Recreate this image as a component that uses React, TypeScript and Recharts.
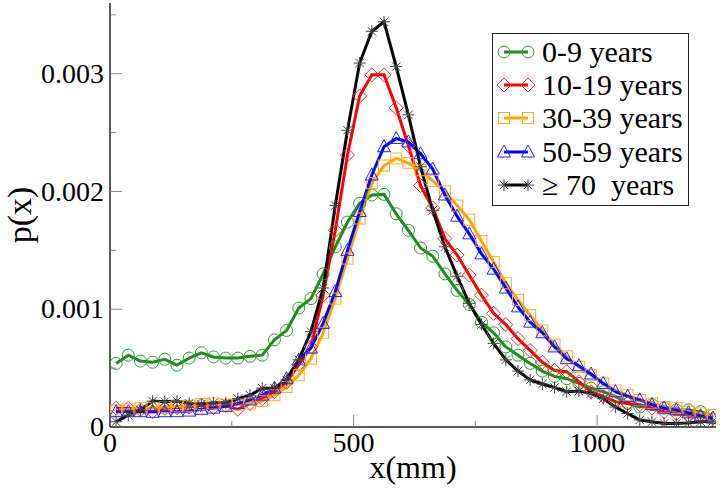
import React from "react";
import { LineChart, Line, XAxis, YAxis, Legend, Label } from "recharts";

// bin centres (mm)
const xs = [
  12.5, 37.5, 62.5, 87.5, 112.5, 137.5, 162.5, 187.5, 212.5, 237.5,
  262.5, 287.5, 312.5, 337.5, 362.5, 387.5, 412.5, 437.5, 462.5, 487.5,
  512.5, 537.5, 562.5, 587.5, 612.5, 637.5, 662.5, 687.5, 712.5, 737.5,
  762.5, 787.5, 812.5, 837.5, 862.5, 887.5, 912.5, 937.5, 962.5, 987.5,
  1012.5, 1037.5, 1062.5, 1087.5, 1112.5, 1137.5, 1162.5, 1187.5, 1212.5, 1237.5,
];

const age0to9 = [
  5.4e-4, 6.1e-4, 5.6e-4, 5.5e-4, 5.75e-4, 5.25e-4, 5.85e-4, 6.3e-4, 5.95e-4, 5.85e-4,
  5.85e-4, 6.0e-4, 6.1e-4, 7.4e-4, 8.2e-4, 10.1e-4, 10.9e-4, 13.0e-4, 15.3e-4, 17.4e-4,
  19.0e-4, 19.7e-4, 19.75e-4, 18.1e-4, 16.7e-4, 15.2e-4, 14.5e-4, 13.0e-4, 11.6e-4, 10.4e-4,
  8.9e-4, 8.0e-4, 6.8e-4, 6.1e-4, 5.4e-4, 4.75e-4, 4.3e-4, 4.1e-4, 3.7e-4, 3.3e-4,
  3.0e-4, 2.6e-4, 2.0e-4, 1.7e-4, 1.9e-4, 1.6e-4, 1.45e-4, 1.45e-4, 1.3e-4, 1.0e-4,
];

const age10to19 = [
  1.6e-4, 1.6e-4, 1.45e-4, 1.3e-4, 1.6e-4, 1.65e-4, 1.7e-4, 1.85e-4, 1.65e-4, 1.8e-4,
  1.5e-4, 2.0e-4, 2.4e-4, 3.0e-4, 3.8e-4, 5.3e-4, 6.8e-4, 11.2e-4, 16.7e-4, 23.1e-4,
  28.1e-4, 29.9e-4, 29.9e-4, 27.1e-4, 23.9e-4, 20.5e-4, 18.6e-4, 16.0e-4, 14.6e-4, 12.9e-4,
  11.2e-4, 9.65e-4, 8.7e-4, 7.5e-4, 6.5e-4, 5.5e-4, 4.8e-4, 4.7e-4, 3.85e-4, 3.0e-4,
  2.6e-4, 2.15e-4, 2.0e-4, 1.9e-4, 1.6e-4, 1.3e-4, 1.15e-4, 1.0e-4, 0.85e-4, 0.74e-4,
];

const age30to39 = [
  1.4e-4, 1.5e-4, 1.6e-4, 1.6e-4, 1.7e-4, 1.75e-4, 1.8e-4, 1.95e-4, 2.0e-4, 1.9e-4,
  1.9e-4, 2.0e-4, 2.2e-4, 2.7e-4, 3.4e-4, 4.4e-4, 5.8e-4, 8.0e-4, 10.9e-4, 14.3e-4,
  17.7e-4, 20.7e-4, 22.2e-4, 22.8e-4, 22.4e-4, 21.8e-4, 20.9e-4, 20.0e-4, 18.8e-4, 17.6e-4,
  15.8e-4, 14.0e-4, 12.2e-4, 10.8e-4, 9.5e-4, 8.2e-4, 7.0e-4, 6.0e-4, 5.1e-4, 4.4e-4,
  3.7e-4, 3.1e-4, 2.7e-4, 2.3e-4, 2.0e-4, 1.7e-4, 1.6e-4, 1.3e-4, 1.15e-4, 1.0e-4,
];

const age50to59 = [
  1.3e-4, 1.3e-4, 1.3e-4, 1.25e-4, 1.3e-4, 1.3e-4, 1.35e-4, 1.5e-4, 1.6e-4, 1.75e-4,
  2.0e-4, 2.3e-4, 2.7e-4, 3.3e-4, 4.1e-4, 5.7e-4, 6.7e-4, 8.8e-4, 11.5e-4, 15.0e-4,
  18.3e-4, 21.4e-4, 23.8e-4, 24.5e-4, 24.2e-4, 23.2e-4, 21.9e-4, 19.7e-4, 17.9e-4, 16.4e-4,
  14.7e-4, 13.4e-4, 11.8e-4, 10.2e-4, 8.9e-4, 8.0e-4, 6.8e-4, 5.8e-4, 5.2e-4, 4.5e-4,
  3.7e-4, 3.0e-4, 2.6e-4, 2.3e-4, 1.9e-4, 1.6e-4, 1.45e-4, 1.2e-4, 0.95e-4, 0.75e-4,
];

const age70plus = [
  0.45e-4, 1.0e-4, 1.45e-4, 2.2e-4, 2.15e-4, 2.2e-4, 2.0e-4, 1.95e-4, 2.05e-4, 2.05e-4,
  2.4e-4, 2.7e-4, 3.3e-4, 3.3e-4, 4.0e-4, 5.7e-4, 8.1e-4, 11.8e-4, 18.8e-4, 25.2e-4,
  30.9e-4, 33.6e-4, 34.4e-4, 30.6e-4, 26.5e-4, 22.1e-4, 18.4e-4, 15.3e-4, 12.8e-4, 10.5e-4,
  8.7e-4, 7.1e-4, 5.7e-4, 4.75e-4, 4.0e-4, 3.65e-4, 3.35e-4, 3.0e-4, 3.05e-4, 2.85e-4,
  2.4e-4, 1.7e-4, 1.15e-4, 0.6e-4, 0.45e-4, 0.3e-4, 0.3e-4, 0.35e-4, 0.45e-4, 0.5e-4,
];

const xTicks = [0, 250, 500, 750, 1000];
const yTicks = [0, 0.0005, 0.001, 0.0015, 0.002, 0.0025, 0.003, 0.0035];

const series = [
  { key: "a0", name: "0-9 years", color: "#1f8b1f", markColor: "#2f9f2f", marker: "circle", values: age0to9 },
  { key: "a10", name: "10-19 years", color: "#ff0000", markColor: "#f03030", marker: "diamond", values: age10to19 },
  { key: "a30", name: "30-39 years", color: "#ffa500", markColor: "#ffad20", marker: "square", values: age30to39 },
  { key: "a50", name: "50-59 years", color: "#0000ff", markColor: "#2525ff", marker: "triangle", values: age50to59 },
  { key: "a70", name: "\u2265 70  years", color: "#000000", markColor: "#444444", marker: "star", values: age70plus },
];

const data = xs.map((x, i) => {
  const row: any = { x };
  series.forEach((s) => (row[s.key] = s.values[i]));
  return row;
});

const font = "Liberation Serif, DejaVu Serif, Times New Roman, Times, serif";
const tickColor = "#888";
const frame = { stroke: "#222", strokeWidth: 1.5 };

function Marker({ kind, cx, cy, color }: any) {
  const common = { fill: "none", stroke: color, strokeWidth: 1 };
  if (kind === "circle") return <circle cx={cx} cy={cy} r={6} {...common} />;
  if (kind === "diamond")
    return <path d={`M${cx},${cy - 7}L${cx + 7},${cy}L${cx},${cy + 7}L${cx - 7},${cy}Z`} {...common} />;
  if (kind === "square") return <rect x={cx - 5.5} y={cy - 5.5} width={11} height={11} {...common} />;
  if (kind === "triangle")
    return <path d={`M${cx},${cy - 7}L${cx + 6.5},${cy + 5}L${cx - 6.5},${cy + 5}Z`} {...common} />;
  const r = 6;
  const d = r * 0.707;
  return (
    <g {...common}>
      <line x1={cx - r} y1={cy} x2={cx + r} y2={cy} />
      <line x1={cx} y1={cy - r} x2={cx} y2={cy + r} />
      <line x1={cx - d} y1={cy - d} x2={cx + d} y2={cy + d} />
      <line x1={cx - d} y1={cy + d} x2={cx + d} y2={cy - d} />
    </g>
  );
}

const isMajorY = (v: number) => Math.round(v * 2000) % 2 === 0;

function BottomTick({ x, y, payload }: any) {
  const v = payload.value;
  const major = v % 500 === 0;
  return (
    <g>
      {v > 0 && <line x1={x} y1={y} x2={x} y2={y - (major ? 12 : 6)} stroke={tickColor} />}
      {major && (
        <text x={x} y={y + 25} textAnchor="middle" style={{ fontFamily: font }} fontSize={28} fill="#000">
          {v}
        </text>
      )}
    </g>
  );
}

function TopTick({ x, y, payload }: any) {
  const major = payload.value % 500 === 0;
  return <line x1={x} y1={y} x2={x} y2={y + (major ? 12 : 6)} stroke={tickColor} />;
}

function LeftTick({ x, y, payload }: any) {
  const v = payload.value;
  const major = isMajorY(v);
  return (
    <g>
      {v > 0 && <line x1={x} y1={y} x2={x + (major ? 12 : 6)} y2={y} stroke={tickColor} />}
      {major && (
        <text x={x - 6} y={y} dy="0.33em" textAnchor="end" style={{ fontFamily: font }} fontSize={28} fill="#000">
          {v === 0 ? "0" : v.toFixed(3)}
        </text>
      )}
    </g>
  );
}

function RightTick({ x, y, payload }: any) {
  const v = payload.value;
  if (v === 0) return <g />;
  const major = isMajorY(v);
  return <line x1={x} y1={y} x2={x - (major ? 12 : 6)} y2={y} stroke={tickColor} />;
}

function LegendBox() {
  return (
    <div style={{ border: "1px solid #222", background: "#fff", width: 195, paddingTop: 1, paddingBottom: 3.5 }}>
      {series.map((s) => (
        <div key={s.key} style={{ display: "flex", alignItems: "center", height: 33.3 }}>
          <svg width={49} height={20} style={{ flex: "none" }}>
            <line x1={11} y1={10} x2={35} y2={10} stroke={s.color} strokeWidth={3} />
            <Marker kind={s.marker} cx={11} cy={10} color={s.markColor} />
            <Marker kind={s.marker} cx={35} cy={10} color={s.markColor} />
          </svg>
          <span style={{ fontFamily: font, fontSize: 30, lineHeight: 1, whiteSpace: "pre", color: "#000" }}>
            {s.name}
          </span>
        </div>
      ))}
    </div>
  );
}

export default function App() {
  return (
    <div style={{ position: "absolute", left: 0, top: 0, background: "#fff", fontFamily: font }}>
      <LineChart width={720} height={492} data={data} margin={{ top: 3, right: 4, bottom: 0, left: 0 }}>
        <XAxis
          dataKey="x"
          type="number"
          domain={[0, 1244]}
          allowDataOverflow
          ticks={xTicks}
          interval={0}
          tickSize={0}
          tickMargin={0}
          height={65}
          axisLine={frame}
          tick={<BottomTick />}
        >
          <Label
            content={({ viewBox }: any) => (
              <text
                x={viewBox.x + viewBox.width / 2}
                y={viewBox.y + 51}
                textAnchor="middle"
                style={{ fontFamily: font }}
                fontSize={32}
                fill="#000"
              >
                x(mm)
              </text>
            )}
          />
        </XAxis>
        <XAxis
          xAxisId="top"
          orientation="top"
          dataKey="x"
          type="number"
          domain={[0, 1244]}
          allowDataOverflow
          ticks={[250, 500, 750, 1000]}
          interval={0}
          tickSize={0}
          tickMargin={0}
          height={0}
          axisLine={frame}
          tick={<TopTick />}
        />
        <YAxis
          type="number"
          domain={[0, 0.0036]}
          allowDataOverflow
          ticks={yTicks}
          interval={0}
          tickSize={0}
          tickMargin={0}
          width={110}
          axisLine={frame}
          tick={<LeftTick />}
        >
          <Label
            content={({ viewBox }: any) => {
              const cx = viewBox.x + 21;
              const cy = viewBox.y + viewBox.height / 2;
              return (
                <text
                  x={cx}
                  y={cy}
                  dy="0.3em"
                  textAnchor="middle"
                  transform={`rotate(-90 ${cx} ${cy})`}
                  style={{ fontFamily: font }}
                  fontSize={34}
                  fill="#000"
                >
                  p(x)
                </text>
              );
            }}
          />
        </YAxis>
        <YAxis
          yAxisId="right"
          orientation="right"
          type="number"
          domain={[0, 0.0036]}
          allowDataOverflow
          ticks={yTicks}
          interval={0}
          tickSize={0}
          tickMargin={0}
          width={0}
          axisLine={frame}
          tick={<RightTick />}
        />
        <Legend
          layout="vertical"
          align="center"
          verticalAlign="middle"
          wrapperStyle={{ left: 492, top: 33, width: "auto", height: "auto" }}
          content={() => <LegendBox />}
        />
        {series.map((s) => (
          <Line
            key={s.key}
            dataKey={s.key}
            name={s.name}
            type="linear"
            stroke={s.color}
            strokeWidth={3}
            isAnimationActive={false}
            activeDot={false}
            dot={(p: any) => (
              <Marker key={`${s.key}-${p.index}`} kind={s.marker} cx={p.cx} cy={p.cy} color={s.markColor} />
            )}
          />
        ))}
      </LineChart>
    </div>
  );
}
